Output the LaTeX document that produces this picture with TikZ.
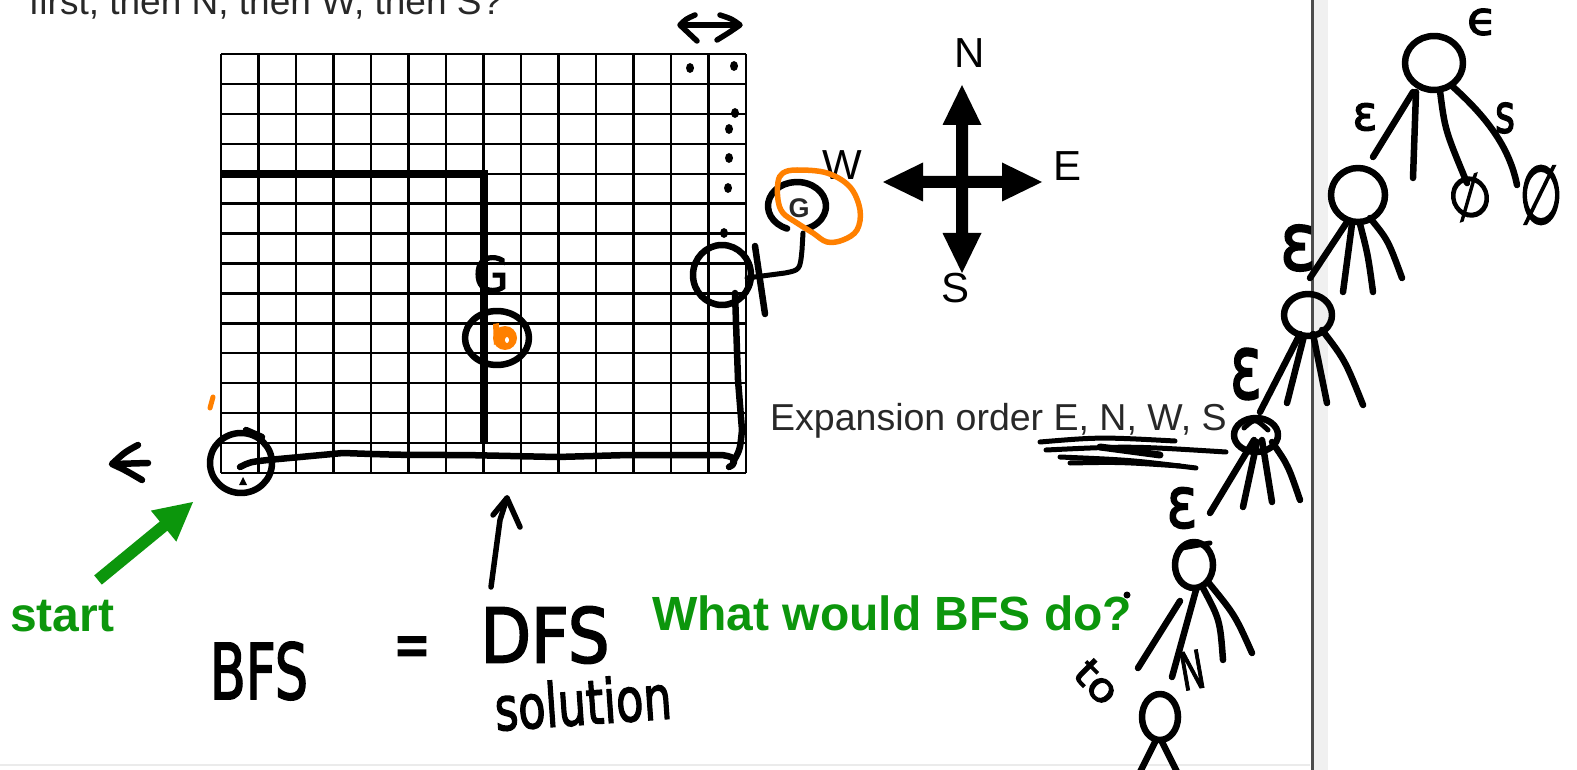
\documentclass[tikz,border=0pt]{standalone}
\usepackage{fontspec}
\setmainfont{Liberation Sans}
\newfontfamily\hand[FakeBold=2.5]{DejaVu Sans}
\usetikzlibrary{arrows.meta}
\definecolor{grn}{RGB}{12,150,12}
\definecolor{org}{RGB}{255,128,0}
\definecolor{txt}{RGB}{40,40,40}
\begin{document}
\begin{tikzpicture}[x=1pt,y=-1pt,
  ink/.style={line width=6.5pt,line cap=round,line join=round},
  hw/.style={inner sep=0pt,font=\hand},
  gl/.style={line width=2.3pt},
  lbl/.style={inner sep=0pt,text=black,font=\fontsize{42}{44}\selectfont},
  big/.style={inner sep=0pt,text=grn,font=\fontsize{48}{50}\selectfont\bfseries}]
\useasboundingbox (0,0) rectangle (1577,770);
\fill[white] (0,0) rectangle (1577,770);

% divider and bottom edge
\fill[black!6] (1314,0) rectangle (1328,770);
\draw[line width=3pt, black!70] (1312,0) -- (1312,770);
\draw[line width=2pt, black!8] (0,765) -- (1310,765);

% header text
\node[anchor=base west, inner sep=0pt, text=txt, font=\fontsize{37}{40}\selectfont] (hdr) at (29,15) {first, then N, then W, then S?};

% grid
\foreach \i in {0,...,14} {
  \draw[gl] ({221+\i*37.5},54) -- ({221+\i*37.5},473);
  \draw[gl] (221,{54+\i*29.93}) -- (746,{54+\i*29.93});
}
% wall
\draw[line width=8pt] (221,173.7) -- (483.5,173.7) -- (483.5,443);
% start marker triangle
\fill (239,485) -- (247,485) -- (243,477) -- cycle;

% compass
\fill (956,125) -- (942.5,125) -- (962,85) -- (981.5,125) -- (968,125) -- (968,176) -- (1002,176) -- (1002,162.5) -- (1042,182) -- (1002,201.5) -- (1002,188) -- (968,188) -- (968,233) -- (981.5,233) -- (962,273) -- (942.5,233) -- (956,233) -- (956,188) -- (923,188) -- (923,201.5) -- (883,182) -- (923,162.5) -- (923,176) -- (956,176) -- cycle;
\node[lbl] (cn) at (970,53) {N};
\node[lbl] (ce) at (1067,166) {E};
\node[lbl] (cs) at (955,288) {S};
\node[lbl] (cw) at (842,165) {W};

% start arrow
\fill[grn] (94.2,575.4) -- (159.8,521.5) -- (150.9,510.6) -- (193,502) -- (176.3,541.6) -- (167.4,530.7) -- (101.8,584.6) -- cycle;
\node[big, anchor=base west] (start) at (10,631) {start};
\node[big, anchor=base west] (bfsq) at (652,630) {What would BFS do?};

% expansion order
\node[anchor=base west, inner sep=0pt, text=txt, font=\fontsize{37.5}{40}\selectfont] (exp) at (770,430) {Expansion order E, N, W, S};
\draw[ink,line width=5pt] (1040,442) .. controls (1100,437) .. (1175,441);
\draw[ink,line width=5pt] (1046,450) .. controls (1130,446) .. (1226,452);
\draw[ink,line width=5pt] (1060,457) .. controls (1130,460) .. (1196,468);
\draw[ink,line width=5pt] (1070,463) .. controls (1120,462) .. (1180,466);
\draw[ink,line width=7pt] (1100,447) -- (1160,455);

% hand-drawn path and circles
\draw[ink] (241,463) ellipse [x radius=31, y radius=30];
\draw[ink] (246,430) -- (262,437);
\draw[ink] (240,467) .. controls (250,462) .. (268,460) -- (343,453) .. controls (400,455) .. (464,455) -- (557,457) -- (629,455) -- (722,455) .. controls (733,457) .. (734,462) .. controls (733,465) .. (729,467);
\draw[ink] (733,462) .. controls (740,450) .. (742,430) -- (738,380) -- (735,293);
\draw[ink] (722,275) ellipse [x radius=29, y radius=30];
\draw[ink] (755,246) -- (765,314);
\draw[ink,line width=5pt] (747,278) -- (785,273) .. controls (800,270) .. (802,250) -- (803,233);
\draw[ink] (797,206) ++(110:29 and 24) arc [start angle=110, end angle=430, x radius=29, y radius=24];
\node[inner sep=0pt, text=txt, font=\fontsize{27}{28}\selectfont\bfseries] (goal) at (799,208) {G};
\draw[org, line width=5.5pt, line cap=round] plot[smooth cycle, tension=0.6] coordinates {(778,182) (783,173) (797,170) (827,173) (850,187) (860,210) (857,230) (843,240) (827,242) (813,233) (797,223) (783,213) (778,200)};

% dots and double arrow
\foreach \p in {(690,68),(734,66),(735,113),(729,129),(729,158),(728,188),(724,233)}
  \fill \p ellipse [x radius=4, y radius=5];
\draw[ink,line width=5.5pt] (695,15) .. controls (686,19) .. (680,25) .. controls (688,33) .. (697,41);
\draw[ink,line width=5.5pt] (720,15) .. controls (732,19) .. (740,25) .. controls (730,32) .. (717,40);
\draw[ink,line width=5.5pt] (681,25) -- (739,25);

% middle marks
\node[hw] (g2) at (491,274) {\resizebox{35pt}{36pt}{G}};
\draw[ink] (497,338) ellipse [x radius=32, y radius=27];
\fill[org] (505,338) ellipse [x radius=12, y radius=12];
\fill[org] (493,324) -- (499,323) -- (500,340) -- (494,345) -- cycle;
\fill[white] (507,340) ellipse [x radius=2, y radius=3];
\draw[org, line width=5pt, line cap=round] (213,397) -- (210,408);
\draw[ink] (138,445) .. controls (125,452) .. (112,464) .. controls (125,470) .. (142,480);
\draw[ink] (114,464) -- (148,463);

% upward arrow
\draw[ink,line width=5.5pt] (491,587) -- (500,520) -- (507,498);
\draw[ink,line width=5.5pt] (493,515) -- (507,498) -- (520,527);

% handwritten equation
\node[hw] (bfs) at (259,671) {\resizebox{98pt}{57pt}{BFS}};
\node[hw] (eq) at (412,652) {\resizebox{37pt}{30pt}{=}};
\node[hw] (dfs) at (545,635) {\resizebox{129pt}{56pt}{DFS}};
\node[hw, rotate=4] (sol) at (583,702) {\resizebox{177pt}{46pt}{solution}};

% tree
\draw[ink] (1434,63) ellipse [x radius=29, y radius=27];
\draw[ink] (1413,92) -- (1373,157);
\draw[ink] (1416,92) -- (1413,178);
\draw[ink] (1440,91) .. controls (1445,130) .. (1467,183);
\draw[ink] (1452,86) .. controls (1490,120) and (1510,150) .. (1517,185);
\node[hw] (e0) at (1482,22) {\resizebox{30pt}{26pt}{ϵ}};
\node[hw] (e1) at (1365,117) {\resizebox{25pt}{27pt}{ε}};
\node[hw] (s1) at (1505,118) {\resizebox{20pt}{30pt}{s}};
\node[hw, rotate=20] (z1) at (1470,197) {\resizebox{44pt}{40pt}{∅}};
\node[hw] (z2) at (1541,195) {\resizebox{43pt}{58pt}{∅}};

\draw[ink] (1358,195) ellipse [x radius=27, y radius=27];
\draw[ink] (1347,222) -- (1310,278);
\draw[ink] (1352,224) -- (1343,292);
\draw[ink] (1360,224) .. controls (1368,255) .. (1373,292);
\draw[ink] (1370,218) .. controls (1388,240) .. (1402,278);
\node[hw] (e2) at (1298,248) {\resizebox{36pt}{45pt}{ε}};

\draw[ink] (1308,315) ellipse [x radius=24, y radius=21];
\draw[ink] (1300,334) -- (1260,412);
\draw[ink] (1304,336) -- (1287,403);
\draw[ink] (1313,334) -- (1327,403);
\draw[ink] (1322,330) .. controls (1345,360) .. (1363,405);
\node[hw] (e3) at (1246,374) {\resizebox{32pt}{50pt}{ε}};

\draw[ink] (1256,435) ellipse [x radius=22, y radius=17];
\draw[ink,line width=5pt] (1244,428) .. controls (1255,418) .. (1268,430);
\draw[ink] (1254,440) -- (1210,513);
\draw[ink] (1257,442) -- (1243,507);
\draw[ink] (1262,440) -- (1272,502);
\draw[ink] (1272,442) .. controls (1288,465) .. (1300,500);
\node[hw] (e4) at (1182,508) {\resizebox{31pt}{40pt}{ε}};

\draw[ink] (1194,565) ellipse [x radius=19, y radius=23];
\draw[ink,line width=5pt] (1182,548) -- (1210,543);
\draw[ink] (1180,601) -- (1138,668);
\draw[ink] (1196,590) -- (1172,677);
\draw[ink] (1203,588) .. controls (1220,620) .. (1223,660);
\draw[ink] (1208,582) .. controls (1235,615) .. (1252,653);
\node[hw, rotate=10] (n5) at (1192,670) {\resizebox{24pt}{38pt}{N}};
\node[hw, rotate=-45] (to5) at (1097,682) {\resizebox{46pt}{28pt}{to}};
\fill (1127,595) circle (3.5);

\draw[ink] (1160,717) ellipse [x radius=18, y radius=23];
\draw[ink] (1156,740) -- (1140,772);
\draw[ink] (1161,740) -- (1177,772);
\end{tikzpicture}
\end{document}
